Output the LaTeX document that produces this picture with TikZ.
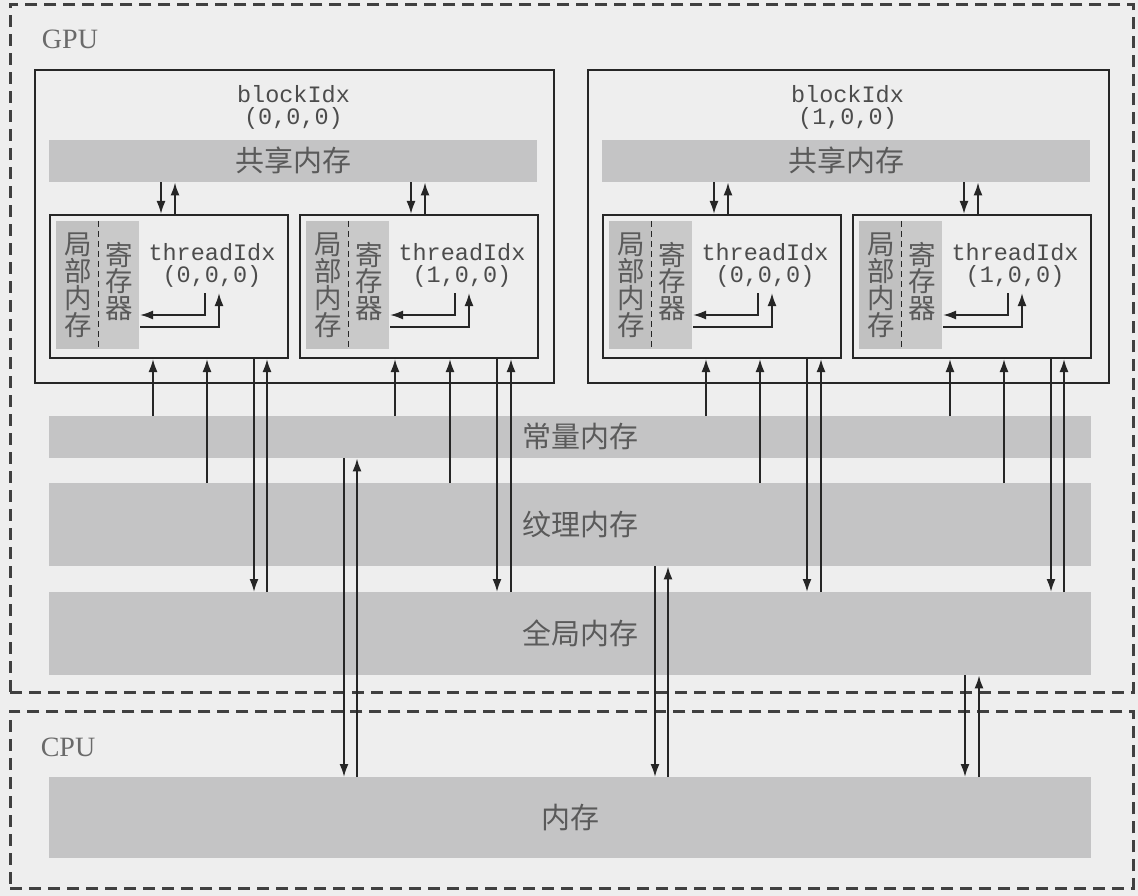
\documentclass[tikz,border=0pt]{standalone}
\usepackage{fontspec}
\setmainfont{Liberation Serif}
\setmonofont{Liberation Mono}
\newfontfamily\cjk{Noto Sans CJK SC}
\usetikzlibrary{arrows.meta,calc}
\definecolor{bg}{HTML}{EEEEEE}
\definecolor{bar}{HTML}{C4C4C5}
\definecolor{loc}{HTML}{C1C1C1}
\definecolor{reg}{HTML}{C9C9C9}
\definecolor{ln}{HTML}{262626}
\definecolor{dsh}{HTML}{404040}
\definecolor{txt}{HTML}{5A5A5A}
\definecolor{mono}{HTML}{4C4C4C}
\definecolor{lbl}{HTML}{6A6A6A}
\tikzset{
 dbox/.style={draw=dsh, line width=2.6pt, dash pattern=on 12pt off 7pt, anchor=north west, inner sep=0pt},
 blk/.style={draw=ln, line width=2pt, anchor=north west, inner sep=0pt},
 membar/.style={fill=bar, anchor=north west, inner sep=0pt},
 arr/.style={draw=ln, line width=1.9pt, -{Latex[length=13pt,width=9pt]}},
 cj/.style={text=txt, font=\cjk\fontsize{29}{30}\selectfont, inner sep=0pt, align=center},
 mn/.style={text=mono, font=\ttfamily\fontsize{23.5}{24}\selectfont, inner sep=0pt, anchor=base},
 lab/.style={text=lbl, font=\fontsize{28}{30}\selectfont, inner sep=0pt},
}
\newcommand\thrbox[3]{%
 \node[blk, minimum width=238pt, minimum height=143pt] (#1) at (#2,214) {};
 \node[membar, fill=loc, minimum width=42pt, minimum height=128pt] (#1loc) at ({#2+7},221) {};
 \node[membar, fill=reg, minimum width=41pt, minimum height=128pt] (#1reg) at ({#2+49},221) {};
 \draw[draw=ln, line width=1.6pt, dash pattern=on 6pt off 4pt] (#1loc.north east) -- (#1loc.south east);
 \node[cj, font=\cjk\fontsize{27.5}{27}\selectfont] (#1lt) at ({#2+29.5},285.5) {局\\部\\内\\存};
 \node[cj, font=\cjk\fontsize{27.5}{26.5}\selectfont] (#1rt) at ({#2+70},281) {寄\\存\\器};
 \node[mn] (#1ta) at ({#2+163},260) {threadIdx};
 \node[mn] (#1tb) at ({#2+163},283) {#3};
 \coordinate (#1a) at ({#2+156},293);
 \coordinate (#1b) at ({#2+91},315);
 \coordinate (#1c) at ({#2+91},327);
 \coordinate (#1d) at ({#2+170},293);
 \draw[arr] (#1a) |- (#1b);
 \draw[arr] (#1c) -| (#1d);
}
\begin{document}
\begin{tikzpicture}[x=1pt,y=-1pt]
\fill[bg] (0,0) rectangle (1138,896);
\useasboundingbox (0,0) rectangle (1138,896);

% outer dashed regions
\node[dbox, minimum width=1123pt, minimum height=688pt] (gpu) at (9,3) {};
\node[dbox, minimum width=1123pt, minimum height=177pt] (cpu) at (9,710) {};
\node[lab] (gpul) at (70,39) {GPU};
\node[lab] (cpul) at (68,747) {CPU};

% memory bars
\node[membar, minimum width=1042pt, minimum height=42pt] (cmem) at (49,416) {};
\node[membar, minimum width=1042pt, minimum height=83pt] (tmem) at (49,483) {};
\node[membar, minimum width=1042pt, minimum height=83pt] (gmem) at (49,592) {};
\node[membar, minimum width=1042pt, minimum height=81pt] (hmem) at (49,777) {};
\node[cj] (cmemt) at (580,436.5) {常量内存};
\node[cj] (tmemt) at (580,524) {纹理内存};
\node[cj] (gmemt) at (580,633) {全局内存};
\node[cj] (hmemt) at (570,818) {内存};

% blocks
\node[blk, minimum width=519pt, minimum height=313pt] (b0) at (34,69) {};
\node[blk, minimum width=521pt, minimum height=313pt] (b1) at (587,69) {};
\node[mn] (b0a) at (293.5,103) {blockIdx};
\node[mn] (b0b) at (293.5,125) {(0,0,0)};
\node[mn] (b1a) at (847.5,103) {blockIdx};
\node[mn] (b1b) at (847.5,125) {(1,0,0)};
\node[membar, minimum width=488pt, minimum height=42pt] (shm0) at (49,140) {};
\node[membar, minimum width=488pt, minimum height=42pt] (shm1) at (602,140) {};
\node[cj] (shm0t) at (293.5,160) {共享内存};
\node[cj] (shm1t) at (846,160) {共享内存};

% threads
\thrbox{t00}{49}{(0,0,0)}
\thrbox{t01}{299}{(1,0,0)}
\thrbox{t10}{602}{(0,0,0)}
\thrbox{t11}{852}{(1,0,0)}

% x positions of vertical connectors
\foreach \x in {153,161,175,207,254,267,344,357,395,411,425,450,497,511,655,668,706,714,728,760,807,821,950,964,965,978,979,1004,1051,1064}
  {\coordinate (v\x) at (\x,0);}

% shared memory <-> threads
\foreach \s/\t/\d/\u in {shm0/t00/161/175, shm0/t01/411/425, shm1/t10/714/728, shm1/t11/964/978}{
  \draw[arr] (\s.south -| v\d) -- (\t.north -| v\d);
  \draw[arr] (\t.north -| v\u) -- (\s.south -| v\u);
}

% threads <-> constant / texture / global memory
\foreach \t/\c/\tx/\dn/\up in {t00/153/207/254/267, t01/395/450/497/511, t10/706/760/807/821, t11/950/1004/1051/1064}{
  \draw[arr] (cmem.north -| v\c) -- (\t.south -| v\c);
  \draw[arr] (tmem.north -| v\tx) -- (\t.south -| v\tx);
  \draw[arr] (\t.south -| v\dn) -- (gmem.north -| v\dn);
  \draw[arr] (gmem.north -| v\up) -- (\t.south -| v\up);
}

% GPU memories <-> host memory
\draw[arr] (cmem.south -| v344) -- (hmem.north -| v344);
\draw[arr] (hmem.north -| v357) -- (cmem.south -| v357);
\draw[arr] (tmem.south -| v655) -- (hmem.north -| v655);
\draw[arr] (hmem.north -| v668) -- (tmem.south -| v668);
\draw[arr] (gmem.south -| v965) -- (hmem.north -| v965);
\draw[arr] (hmem.north -| v979) -- (gmem.south -| v979);
\end{tikzpicture}
\end{document}
